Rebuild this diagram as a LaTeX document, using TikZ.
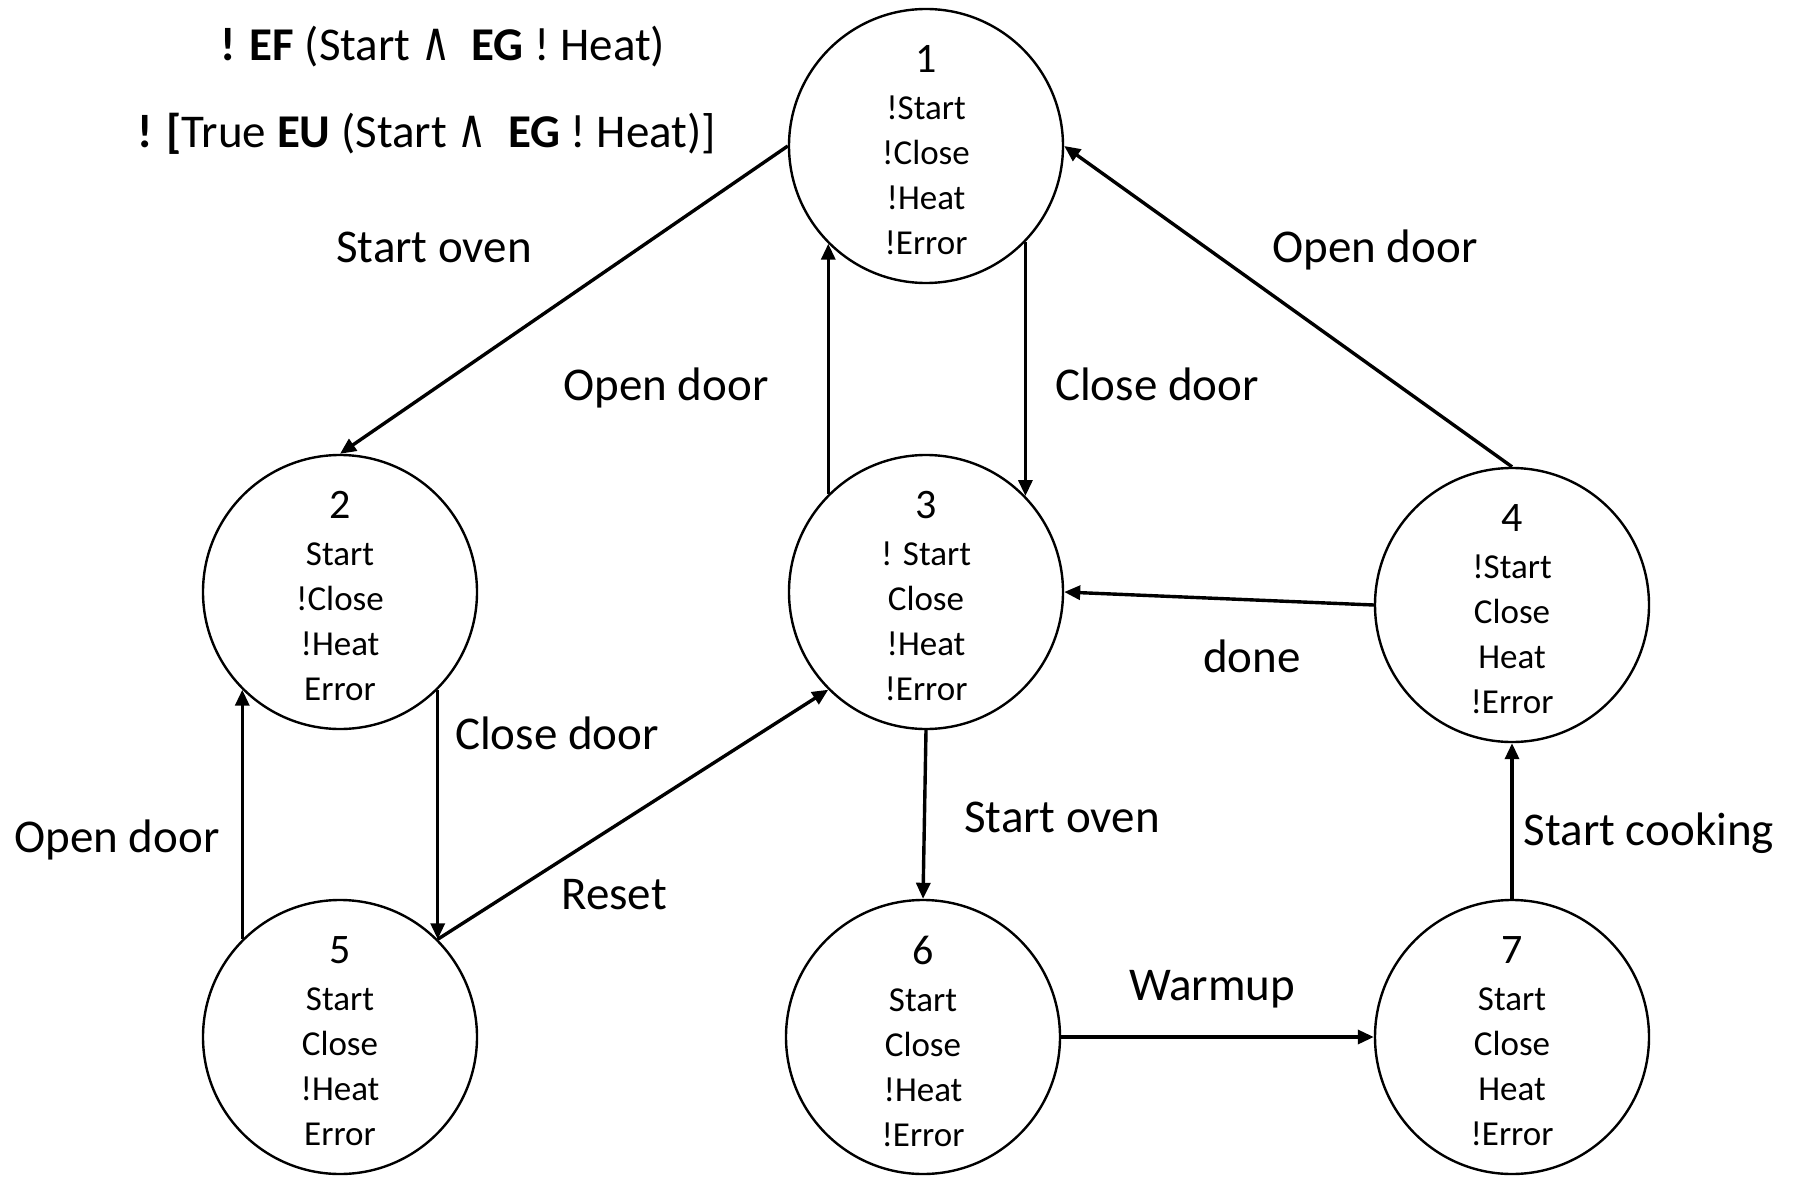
\documentclass[tikz,border=0pt]{standalone}
\usepackage{fontspec}
\usepackage{graphicx}
\setmainfont{Carlito}
\newfontfamily\opfont{DejaVu Sans}
\usetikzlibrary{arrows.meta}

\tikzset{
  state/.style={circle, draw, line width=2.4pt, minimum size=274pt, inner sep=0pt},
  statetext/.style={align=center, inner sep=0pt, font=\fontsize{35}{45}\selectfont},
  edge/.style={line width=3.4pt, -{Triangle[length=16pt,width=14pt]}},
  lbl/.style={anchor=base, inner sep=0pt, font=\fontsize{47}{56}\selectfont},
  formula/.style={anchor=base west, inner sep=0pt, font=\fontsize{47}{56}\selectfont},
}
\newcommand{\statenum}[1]{{\fontsize{42}{45}\selectfont #1}\\[2pt]}
\newcommand{\logand}{\scalebox{1}[1.35]{\opfont\fontsize{40}{50}\selectfont ∧}}

\begin{document}
\begin{tikzpicture}[x=1pt, y=-1pt]
  \useasboundingbox[fill=white] (0,0) rectangle (1793,1182);

  % CTL formulas
  \node[formula] (f1) at (220,61) {\textbf{! EF} (Start \logand\ \ \textbf{EG} ! Heat)};
  \node[formula] (f2) at (137,148) {\textbf{! [}True \textbf{EU} (Start \logand\ \ \textbf{EG} ! Heat)]};

  % states
  \node[state] (s1) at (926,146) {};
  \node[state] (s2) at (340,592) {};
  \node[state] (s3) at (926,592) {};
  \node[state] (s4) at (1512,605) {};
  \node[state] (s5) at (340,1037) {};
  \node[state] (s6) at (923,1037) {};
  \node[state] (s7) at (1512,1037) {};

  \node[statetext, yshift=-4pt] (t1) at (s1) {\statenum{1}!Start\\!Close\\!Heat\\!Error};
  \node[statetext, yshift=-4pt] (t2) at (s2) {\statenum{2}Start\\!Close\\!Heat\\Error};
  \node[statetext, yshift=-4pt] (t3) at (s3) {\statenum{3}! Start\\Close\\!Heat\\!Error};
  \node[statetext, yshift=-4pt] (t4) at (s4) {\statenum{4}!Start\\Close\\Heat\\!Error};
  \node[statetext, yshift=-4pt] (t5) at (s5) {\statenum{5}Start\\Close\\!Heat\\Error};
  \node[statetext, yshift=-4pt] (t6) at (s6) {\statenum{6}Start\\Close\\!Heat\\!Error};
  \node[statetext, yshift=-4pt] (t7) at (s7) {\statenum{7}Start\\Close\\Heat\\!Error};

  % transitions
  \draw[edge] (s1.west) -- (s2.north);
  \draw[edge] (s3.135) -- (s1.225);
  \draw[edge] (s1.-44) -- (s3.44);
  \draw[edge] (s4.north) -- (s1.east);
  \draw[edge] (s4.west) -- (s3.east);
  \draw[edge] (s2.-45) -- (s5.45);
  \draw[edge] (s5.135) -- (s2.225);
  \draw[edge] (s5.45) -- (s3.225);
  \draw[edge] (s3.south) -- (s6.north);
  \draw[edge] (s6.east) -- (s7.west);
  \draw[edge] (s7.north) -- (s4.south);

  % transition labels
  \node[lbl] (l12) at (434,263) {Start oven};
  \node[lbl] (l31) at (666,400) {Open door};
  \node[lbl] (l13) at (1157,400) {Close door};
  \node[lbl] (l41) at (1375,263) {Open door};
  \node[lbl] (l43) at (1252,672) {done};
  \node[lbl] (l25) at (557,749) {Close door};
  \node[lbl] (l52) at (117,852) {Open door};
  \node[lbl] (l53) at (614,909) {Reset};
  \node[lbl] (l36) at (1062,832) {Start oven};
  \node[lbl] (l74) at (1649,845) {Start cooking};
  \node[lbl] (l67) at (1212,1000) {Warmup};
\end{tikzpicture}
\end{document}
